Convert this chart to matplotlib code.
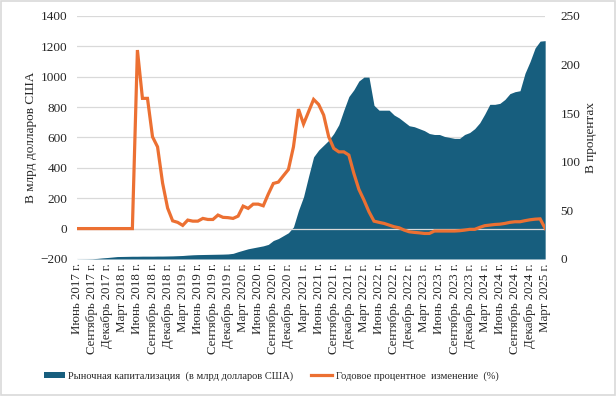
import matplotlib
matplotlib.use("Agg")
import matplotlib.pyplot as plt
from matplotlib.patches import Patch, Rectangle
from matplotlib.lines import Line2D

plt.rcParams['font.family'] = ['Liberation Serif', 'DejaVu Serif']

# Monthly data, June 2017 .. March 2025 (94 months)
pct_change = [0, 0, 0, 0, 0, 0, 0, 0, 0, 0, 0, 0,
              1175, 857, 857, 604, 538, 300, 135, 51, 41, 21,
              56, 49, 49, 67, 60, 60, 89, 74, 72, 67,
              82, 148, 133, 161, 161, 150, 227, 297, 306, 348,
              389, 538, 786, 688, 769, 850, 817, 747, 604, 528,
              505, 505, 484, 363, 258, 188, 111, 49, 41, 34,
              23, 12, 5, -10, -21, -25, -28, -32, -32, -16,
              -16, -16, -16, -16, -14, -10, -5, -5, 8, 19,
              23, 27, 29, 34, 41, 45, 45, 52, 58, 62,
              64, 1]
market_cap = [0.1, 0.15, 0.2, 0.3, 0.6, 1.1, 1.5, 2.0, 2.5, 2.6, 2.7, 2.8,
              2.8, 2.9, 2.9, 2.9, 3.0, 3.0, 3.1, 3.2, 3.4, 3.6,
              4.0, 4.3, 4.5, 4.6, 4.7, 4.8, 4.9, 5.0, 5.2, 5.8,
              7.5, 9.0, 10.5, 11.5, 12.5, 13.5, 15, 19, 21, 24,
              27, 33, 50, 64, 85, 105, 112, 117, 122, 129,
              138, 153, 167, 174, 183, 187, 187, 158, 153, 153,
              153, 148, 145, 141, 137, 136, 134, 132, 129, 128,
              128, 126, 125, 124, 124, 128, 130, 134, 140, 149,
              159, 159, 160, 164, 170, 172, 173, 191, 203, 217,
              224, 224.5]

tick_labels = [
    "Июнь 2017 г.", "Сентябрь 2017 г.", "Декабрь 2017 г.",
    "Март 2018 г.", "Июнь 2018 г.", "Сентябрь 2018 г.", "Декабрь 2018 г.",
    "Март 2019 г.", "Июнь 2019 г.", "Сентябрь 2019 г.", "Декабрь 2019 г.",
    "Март 2020 г.", "Июнь 2020 г.", "Сентябрь 2020 г.", "Декабрь 2020 г.",
    "Март 2021 г.", "Июнь 2021 г.", "Сентябрь 2021 г.", "Декабрь 2021 г.",
    "Март 2022 г.", "Июнь 2022 г.", "Сентябрь 2022 г.", "Декабрь 2022 г.",
    "Март 2023 г.", "Июнь 2023 г.", "Сентябрь 2023 г.", "Декабрь 2023 г.",
    "Март 2024 г.", "Июнь 2024 г.", "Сентябрь 2024 г.", "Декабрь 2024 г.",
    "Март 2025 г.",
]

left_ticks = [-200, 0, 200, 400, 600, 800, 1000, 1200, 1400]
right_ticks = [0, 50, 100, 150, 200, 250]

AREA = "#175e7e"
LINE = "#ec7032"
GRID = "#d9d9d9"
TXT = "#262626"

x = list(range(len(pct_change)))

fig = plt.figure(figsize=(6.16, 3.96), dpi=100)
ax = fig.add_axes([0.125, 0.346, 0.76, 0.614])
ax2 = ax.twinx()

# area on right axis (drawn below)
ax2.set_zorder(1)
ax.set_zorder(2)
ax.patch.set_visible(False)

for i in range(len(left_ticks)):
    ax2.plot([0, 1], [i / (len(left_ticks) - 1)] * 2, transform=ax2.transAxes,
             color=GRID, lw=0.9, zorder=0)
ax2.fill_between(x, 0, market_cap, color=AREA, lw=0, zorder=2)
ax2.set_ylim(0, 250)
ax2.set_yticks(right_ticks)
ax2.set_ylabel("В процентах", fontsize=9.5, labelpad=3.5, color=TXT)

ax.axhline(0, color=GRID, lw=0.9, zorder=1)
ax.plot(x, pct_change, color=LINE, lw=2.3, zorder=3, solid_joinstyle='miter')
ax.set_ylim(-200, 1400)
ax.set_yticks(left_ticks)
ax.set_ylabel("В млрд долларов США", fontsize=9.5, labelpad=2, color=TXT)
ax.set_xlim(0, len(x) - 1)
ax.set_xticks(x[::3])
ax.set_xticklabels(tick_labels, rotation=90)

for a in (ax, ax2):
    for s in a.spines.values():
        s.set_visible(False)
    a.tick_params(axis='both', length=0, labelsize=9.5, colors=TXT)
ax.tick_params(axis='y', pad=7)
ax2.tick_params(axis='y', pad=11)
ax.tick_params(axis='x', pad=3, labelsize=9.3)

handles = [Patch(facecolor=AREA, edgecolor='none'),
           Line2D([0], [0], color=LINE, lw=2.3)]
labels = ["Рыночная капитализация  (в млрд долларов США)",
          "Годовое процентное  изменение  (%)"]
fig.legend(handles, labels, loc='center left', bbox_to_anchor=(0.071, 0.05), ncol=2,
           frameon=False, fontsize=7.5, handlelength=2.0, handleheight=0.6,
           columnspacing=1.7, handletextpad=0.35, labelcolor=TXT,
           borderpad=0, borderaxespad=0)

fig.patches.append(Rectangle((0.002, 0.003), 0.996, 0.994, transform=fig.transFigure,
                             fill=False, edgecolor=GRID, lw=1.2))

fig.savefig("out.png", dpi=100)
